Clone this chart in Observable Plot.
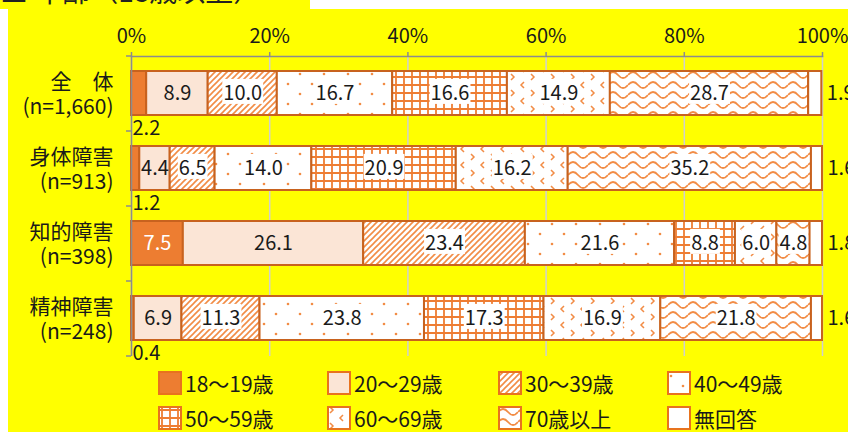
<!DOCTYPE html>
<html><head><meta charset="utf-8">
<script src="https://cdn.jsdelivr.net/npm/d3@7"></script>
<script src="https://cdn.jsdelivr.net/npm/@observablehq/plot@0.6"></script>
<style>
html,body{margin:0;padding:0;background:#fff;width:848px;height:432px;overflow:hidden;font-family:"Noto Sans CJK JP",sans-serif;}
#title{position:absolute;left:0;top:0;width:310px;height:9px;background:#ffff00;overflow:hidden;}
#title span{position:absolute;left:0;top:-24px;font-size:28px;line-height:28px;white-space:nowrap;color:#222}
#panel{position:absolute;left:8px;top:9px;width:840px;height:423px;background:#ffff00;overflow:hidden}
#chart{position:absolute;left:0;top:0}
.leg{position:absolute;display:flex;align-items:center;font-size:21px;line-height:24px;color:#1a1a1a;white-space:nowrap}
.leg svg{margin-right:3px;flex:none}
</style></head><body>
<svg width="0" height="0" style="position:absolute"><defs>
<pattern id="p30" patternUnits="userSpaceOnUse" width="6" height="6"><rect width="6" height="6" fill="#fff"/><path d="M-1,1 l2,-2 M0,6 l6,-6 M5,7 l2,-2" stroke="#F28C45" stroke-width="1.6"/></pattern>
<pattern id="p40" patternUnits="userSpaceOnUse" width="24" height="20"><rect width="24" height="20" fill="#fff"/><circle cx="4" cy="5" r="1.3" fill="#F28C45"/><circle cx="16" cy="15" r="1.3" fill="#F28C45"/></pattern>
<pattern id="p50" patternUnits="userSpaceOnUse" width="8" height="8"><rect width="8" height="8" fill="#fff"/><path d="M0,4 H8 M4,0 V8" stroke="#EE7D33" stroke-width="1.8"/></pattern>
<pattern id="p60" patternUnits="userSpaceOnUse" width="20" height="16"><rect width="20" height="16" fill="#fff"/><path d="M3,1 l3,3 l-3,3 M16,9 l-3,3 l3,3" stroke="#F28C45" stroke-width="1.5" fill="none"/></pattern>
<pattern id="p70" patternUnits="userSpaceOnUse" width="20" height="10"><rect width="20" height="10" fill="#fff"/><path d="M0,6 Q5,0 10,6 T20,6" stroke="#F28C45" stroke-width="1.8" fill="none"/></pattern>
</defs></svg>
<div id="title"><span>■ 年齢（18歳以上）</span></div>
<div id="panel"><div id="chart"></div></div>
<script>
// ---- data ----
const groups = ["全体", "身体障害", "知的障害", "精神障害"];
const groupLabels = ["全　体\n(n=1,660)", "身体障害\n(n=913)", "知的障害\n(n=398)", "精神障害\n(n=248)"];
const categories = ["18～19歳", "20～29歳", "30～39歳", "40～49歳", "50～59歳", "60～69歳", "70歳以上", "無回答"];
const zentai  = [2.2, 8.9, 10.0, 16.7, 16.6, 14.9, 28.7, 1.9];
const shintai = [1.2, 4.4, 6.5, 14.0, 20.9, 16.2, 35.2, 1.6];
const chiteki = [7.5, 26.1, 23.4, 21.6, 8.8, 6.0, 4.8, 1.8];
const seishin = [0.4, 6.9, 11.3, 23.8, 17.3, 16.9, 21.8, 1.6];
const xTicks = [0, 20, 40, 60, 80, 100];

// ---- styles ----
const fills = ["#ED7D31", "#FBE5D6", "url(#p30)", "url(#p40)", "url(#p50)", "url(#p60)", "url(#p70)", "#FFFFFF"];
const patterned = new Set(categories.slice(2, 7));
const edge = "#C8621E";
const ink = "#1a1a1a";

const series = [zentai, shintai, chiteki, seishin];
const rows = groups.flatMap((g, i) => categories.map((c, j) => ({group: g, cat: c, value: series[i][j]})));
const first = categories[0], last = categories[categories.length - 1];
const fmt = d => d.value.toFixed(1);

const W = 840, H = 370, mT = 47, mB = 23;
const step = (H - mT - mB) / groups.length;
const stackOpts = {x: "value", y: "group", z: "cat", order: categories};

const plot = Plot.plot({
  width: W, height: H,
  marginLeft: 123, marginRight: 26, marginTop: mT, marginBottom: mB,
  style: {fontFamily: "'Noto Sans CJK JP', sans-serif", fontSize: "20px", background: "transparent", color: ink, overflow: "visible"},
  x: {domain: [0, 100], axis: null},
  y: {domain: groups, paddingInner: 0.413, paddingOuter: 0.2065, axis: null},
  color: {domain: categories, range: fills},
  marks: [
    Plot.gridX(xTicks, {stroke: "#cfcfcf", strokeOpacity: 1, strokeWidth: 1.5}),
    Plot.barX(rows, Plot.stackX({...stackOpts, fill: "cat", stroke: edge, strokeWidth: 2})),
    Plot.ruleX([0], {stroke: "#8c8c8c", strokeWidth: 1.5}),
    Plot.frame({anchor: "top", stroke: "#8c8c8c", strokeWidth: 1.5}),
    Plot.axisX(xTicks, {anchor: "top", label: null, tickFormat: d => d + "%", tickSize: 5, tickPadding: 9, fontSize: 20, stroke: "#8c8c8c", strokeWidth: 1.5}),
    Plot.axisY({ticks: groups, label: null, tickSize: 5, tickFormat: () => "", dy: -step / 2, stroke: "#8c8c8c", strokeWidth: 1.5}),
    Plot.axisY({ticks: groups.slice(-1), label: null, tickSize: 5, tickFormat: () => "", dy: step / 2, stroke: "#8c8c8c", strokeWidth: 1.5}),
    Plot.text(groups, {y: d => d, text: (d, i) => groupLabels[i], frameAnchor: "left", textAnchor: "end", dx: -18, lineHeight: 1.2, fontSize: 21, fill: ink}),
    // inside labels
    Plot.text(rows, Plot.stackX({...stackOpts, text: d => d.cat === first && d.value >= 5 ? fmt(d) : null, fill: "white", fontSize: 20})),
    Plot.text(rows, Plot.stackX({...stackOpts, text: d => d.cat === categories[1] ? fmt(d) : null, fill: ink, fontSize: 20})),
    Plot.text(rows, Plot.stackX({...stackOpts, text: d => patterned.has(d.cat) ? fmt(d) : null, fill: ink, fontSize: 20, className: "boxed"})),
    // outside labels
    Plot.text(rows, Plot.stackX1({...stackOpts, text: d => d.cat === first && d.value < 5 ? fmt(d) : null, fill: ink, fontSize: 20, textAnchor: "start", dx: 1, dy: step * 0.465})),
    Plot.text(rows, Plot.stackX2({...stackOpts, text: d => d.cat === last ? fmt(d) : null, fill: ink, fontSize: 20, textAnchor: "start", dx: 5}))
  ]
});
document.getElementById("chart").appendChild(plot);

// white boxes behind labels in patterned segments
plot.querySelectorAll("g.boxed text").forEach(t => {
  const b = t.getBBox();
  const r = document.createElementNS("http://www.w3.org/2000/svg", "rect");
  r.setAttribute("x", b.x - 1);
  r.setAttribute("y", b.y + 2);
  r.setAttribute("width", b.width + 2);
  r.setAttribute("height", b.height - 4);
  r.setAttribute("fill", "#fff");
  if (t.getAttribute("transform")) r.setAttribute("transform", t.getAttribute("transform"));
  t.parentNode.insertBefore(r, t);
});

// legend
const panel = document.getElementById("panel");
const colX = [150, 319, 490, 659], rowY = [362, 397];
categories.forEach((c, i) => {
  const d = document.createElement("div");
  d.className = "leg";
  d.style.left = colX[i % 4] + "px";
  d.style.top = rowY[Math.floor(i / 4)] + "px";
  d.innerHTML = `<svg width="24" height="24"><rect x="1" y="1" width="22" height="22" fill="${fills[i]}" stroke="#E8731E" stroke-width="2"/></svg><span>${c}</span>`;
  panel.appendChild(d);
});
</script>
</body></html>
